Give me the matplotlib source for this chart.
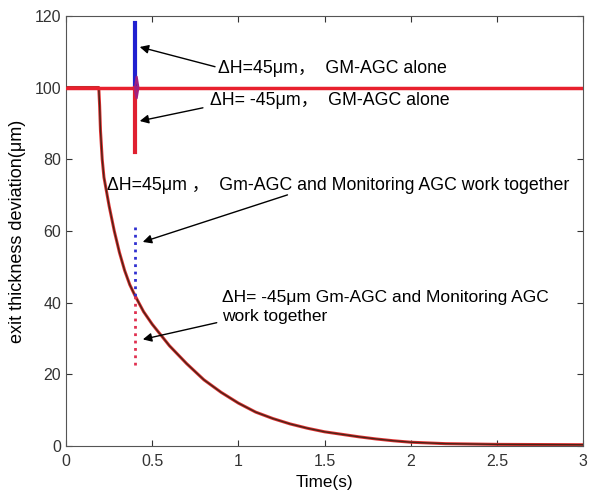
import matplotlib
matplotlib.use("Agg")
import matplotlib.pyplot as plt

plt.rcParams['font.family'] = ['Liberation Sans', 'Noto Sans CJK SC', 'DejaVu Sans']

# Reference line (target / initial deviation)
ref_t = [0.0, 3.0]
ref_y = [100, 100]

# Decay of exit thickness deviation
decay_t = [0.0, 0.19, 0.195, 0.20, 0.21, 0.22, 0.25, 0.28, 0.31, 0.34, 0.37, 0.40,
           0.45, 0.50, 0.55, 0.60, 0.65, 0.70, 0.80, 0.90, 1.00, 1.10, 1.20, 1.30,
           1.40, 1.50, 1.60, 1.70, 1.80, 1.90, 2.00, 2.20, 2.50, 3.00]
decay_y = [100, 100, 95, 88, 80, 75, 67, 60, 54, 49, 45, 42,
           37.5, 34, 31, 28, 25.5, 23, 18.5, 15, 12, 9.5, 7.7, 6.2,
           5.0, 4.0, 3.3, 2.6, 2.0, 1.5, 1.1, 0.7, 0.5, 0.4]

# GM-AGC alone disturbances at t = 0.4 s
alone_pos_t = [0.40, 0.40]
alone_pos_y = [100, 118]
alone_neg_t = [0.40, 0.40]
alone_neg_y = [100, 82]
wiggle_t = [0.40, 0.41, 0.42, 0.41, 0.40, 0.41]
wiggle_y = [100, 103, 100, 97, 99, 100]

# Gm-AGC + Monitoring AGC disturbances at t = 0.4 s
together_pos_t = [0.40, 0.40]
together_pos_y = [42, 61]
together_neg_t = [0.40, 0.40]
together_neg_y = [42, 22]

xticks = [0, 0.5, 1, 1.5, 2, 2.5, 3]
xticklabels = ['0', '0.5', '1', '1.5', '2', '2.5', '3']
yticks = [0, 20, 40, 60, 80, 100, 120]

fig = plt.figure(figsize=(6.0, 4.93), dpi=100)
ax = fig.add_axes([0.11, 0.095, 0.862, 0.873])

ax.plot(decay_t, decay_y, color='#e03030', lw=2.2, zorder=2)
ax.plot(decay_t, decay_y, color='#4a2418', lw=1.0, zorder=3)
ax.plot(ref_t, ref_y, color='#e8202e', lw=2.5, zorder=4)
ax.plot(alone_pos_t, alone_pos_y, color='#2020d0', lw=3, zorder=5)
ax.plot(alone_neg_t, alone_neg_y, color='#e02030', lw=3, zorder=5)
ax.plot(wiggle_t, wiggle_y, color='#a02080', lw=1.5, zorder=6)
ax.plot(together_pos_t, together_pos_y, color='#3030d0', lw=2, ls=':', zorder=5)
ax.plot(together_neg_t, together_neg_y, color='#e03050', lw=2, ls=':', zorder=5)

fs = 12.8
arrow = dict(arrowstyle='-|>', color='black', lw=1.0, mutation_scale=13)
ax.annotate('', xy=(0.412, 111.5), xytext=(0.88, 105.6), arrowprops=arrow)
ax.text(0.882, 105.2, 'ΔH=45μm，  GM-AGC alone', fontsize=fs, va='center', ha='left')
ax.annotate('', xy=(0.412, 90.5), xytext=(0.81, 94.5), arrowprops=arrow)
ax.text(0.836, 96.3, 'ΔH= -45μm，  GM-AGC alone', fontsize=fs, va='center', ha='left')
ax.text(0.238, 72.8, 'ΔH=45μm ，  Gm-AGC and Monitoring AGC work together',
        fontsize=fs, va='center', ha='left')
ax.annotate('', xy=(0.43, 56.7), xytext=(1.30, 70.3), arrowprops=arrow)
ax.text(0.905, 43.5, 'ΔH= -45μm Gm-AGC and Monitoring AGC\nwork together',
        fontsize=12.5, va='top', ha='left', linespacing=1.3)
ax.annotate('', xy=(0.43, 29.6), xytext=(0.89, 34.6), arrowprops=arrow)

ax.set_xlim(0, 3)
ax.set_ylim(0, 120)
ax.set_xticks(xticks)
ax.set_xticklabels(xticklabels)
ax.set_yticks(yticks)
ax.tick_params(direction='in', top=True, right=True, labelsize=11.5,
               colors='#333333', length=4)
ax.tick_params(axis='x', pad=6)
for s in ax.spines.values():
    s.set_color('#555555')
ax.set_xlabel('Time(s)', fontsize=12.3, labelpad=4)
ax.set_ylabel('exit thickness deviation(μm)', fontsize=13, labelpad=6)

fig.savefig('out.png', dpi=100)
